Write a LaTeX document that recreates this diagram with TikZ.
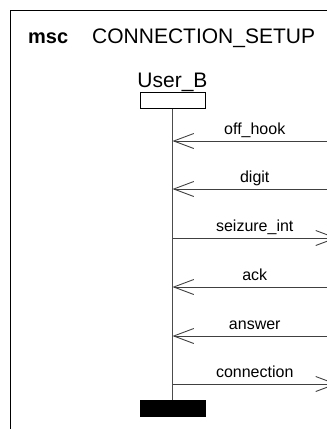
\documentclass[tikz,border=0pt]{standalone}
\usepackage{fontspec}
\setmainfont{Liberation Sans}
\usetikzlibrary{arrows.meta}
\begin{document}
\begin{tikzpicture}[x=1pt,y=-1pt,
  frame/.style={draw=black,line width=1.1pt},
  life/.style={draw=black!70,line width=1pt},
  msgline/.style={draw=black!75,line width=1pt,-{Straight Barb[length=20pt,width=15pt,line width=0.9pt]}},
  lbl/.style={font=\fontsize{16}{16}\selectfont,inner sep=0pt,anchor=base,yshift=7pt},
  big/.style={font=\fontsize{21}{21}\selectfont,inner sep=0pt,anchor=base west},
  headbox/.style={draw=black,line width=1pt,minimum width=65pt,minimum height=16pt,inner sep=0pt},
  stopbox/.style={fill=black,minimum width=66pt,minimum height=16.5pt,inner sep=0pt}]
\useasboundingbox (0,0) rectangle (327,429);
\clip (0,0) rectangle (327,429);
\draw[frame] (10.7,460) -- (10.7,10.7) -- (360,10.7);
\node[font=\fontsize{20}{20}\selectfont\bfseries,inner sep=0pt,anchor=base west] (msc) at (28,43) {msc};
\node[big] (title) at (92,43) {CONNECTION\_SETUP};
\node[font=\fontsize{21}{21}\selectfont,inner sep=0pt,anchor=base] (inst) at (172.5,87) {User\_B};
\node[headbox] (head) at (172.5,100) {};
\node[stopbox] (stop) at (173,408.7) {};
\draw[life] (head.south) -- (stop.north -| head.south);
\foreach \i/\y in {1/141,2/189,3/238,4/287,5/336,6/384}{
  \coordinate (l\i) at (172.5,\y);
  \coordinate (r\i) at (337,\y);
}
\draw[msgline] (r1) -- node[lbl] (t1) {off\_hook} (l1);
\draw[msgline] (r2) -- node[lbl] (t2) {digit} (l2);
\draw[msgline] (l3) -- node[lbl] (t3) {seizure\_int} (r3);
\draw[msgline] (r4) -- node[lbl] (t4) {ack} (l4);
\draw[msgline] (r5) -- node[lbl] (t5) {answer} (l5);
\draw[msgline] (l6) -- node[lbl] (t6) {connection} (r6);
\end{tikzpicture}
\end{document}
